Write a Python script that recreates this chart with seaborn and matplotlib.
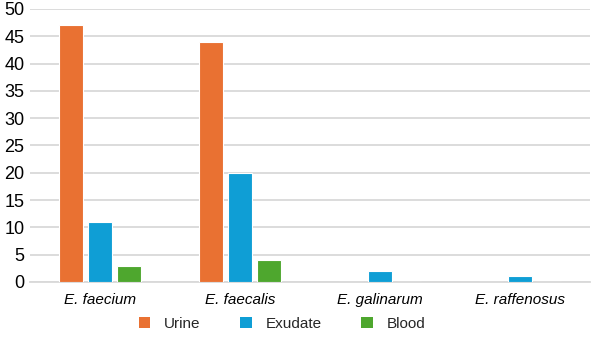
import matplotlib
matplotlib.use("Agg")
import matplotlib.pyplot as plt
import seaborn as sns
import pandas as pd
from matplotlib.patches import Patch

species = ["E. faecium", "E. faecalis", "E. galinarum", "E. raffenosus"]
series = ["Urine", "Exudate", "Blood"]
urine = [47, 44, 0, 0]
exudate = [11, 20, 2, 1]
blood = [3, 4, 0, 0]
colors = ["#E97132", "#0F9ED5", "#4EA72E"]
yticks = [0, 5, 10, 15, 20, 25, 30, 35, 40, 45, 50]

rows = []
for name, vals in zip(series, [urine, exudate, blood]):
    for sp, v in zip(species, vals):
        rows.append({"species": sp, "series": name, "value": v})
df = pd.DataFrame(rows)

sns.set_theme(style="white")
plt.rcParams["font.family"] = ["Liberation Sans", "DejaVu Sans"]

fig = plt.figure(figsize=(6, 3.43), dpi=100)
ax = fig.add_axes([0.05, 0.178, 0.933, 0.796])

sns.barplot(data=df, x="species", y="value", hue="series", order=species,
            hue_order=series, palette=colors, saturation=1, width=0.615, gap=0.16,
            edgecolor="white", linewidth=0.8, ax=ax, legend=False, zorder=3)

ax.set_ylim(0, 50)
ax.set_xlim(-0.5, 3.5)
ax.set_yticks(yticks)
ax.set_yticklabels([str(t) for t in yticks], fontsize=13, color="#000000")
ax.set_xticks(range(len(species)))
ax.set_xticklabels(species, fontsize=11, style="italic", color="#000000")
ax.grid(axis="y", color="#d9d9d9", linewidth=1.3, zorder=0)
ax.set_axisbelow(True)
for s in ["top", "right", "left"]:
    ax.spines[s].set_visible(False)
ax.spines["bottom"].set_color("#d9d9d9")
ax.spines["bottom"].set_linewidth(1.3)
ax.tick_params(axis="both", length=0, pad=4)
ax.tick_params(axis="x", pad=8)
ax.set_xlabel("")
ax.set_ylabel("")

handles = [Patch(facecolor=c, edgecolor="none") for c in colors]
fig.legend(handles, series, loc="center", bbox_to_anchor=(0.47, 0.055), ncol=3,
           frameon=False, fontsize=11, handlelength=0.75, handleheight=0.75,
           columnspacing=2.6, handletextpad=0.9)

fig.savefig("out.png", dpi=100)
